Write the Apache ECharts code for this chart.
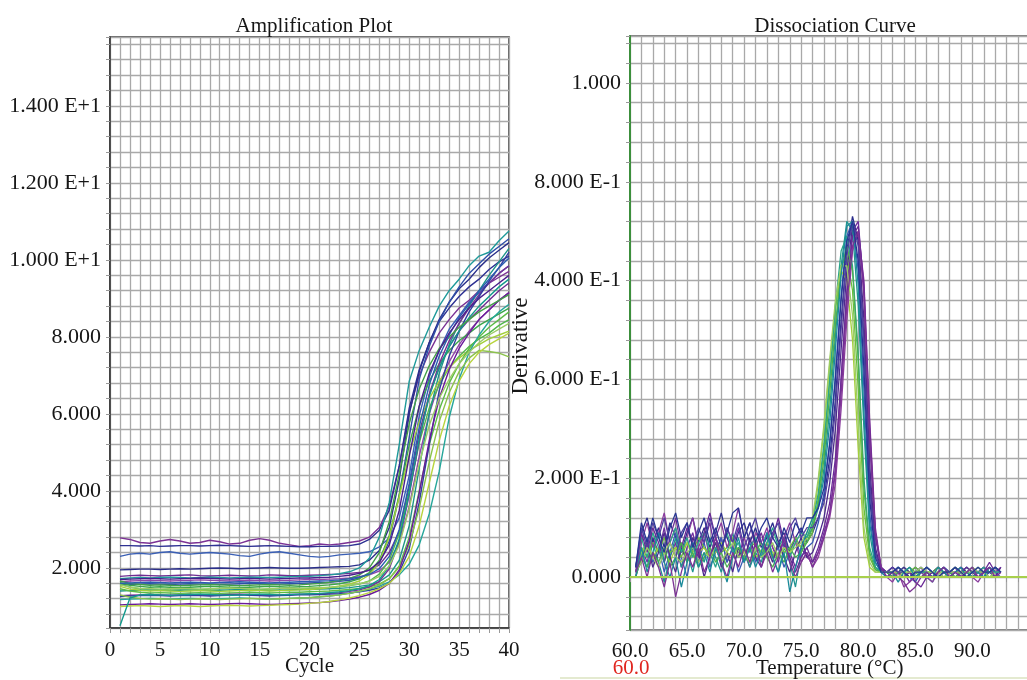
<!DOCTYPE html>
<html>
<head>
<meta charset="utf-8">
<title>Amplification Plot / Dissociation Curve</title>
<script src="https://cdn.jsdelivr.net/npm/echarts@6/dist/echarts.min.js"></script>
<style>
html, body { margin: 0; padding: 0; background: #fff; }
#chart { width: 1027px; height: 680px; }
</style>
</head>
<body>
<div id="chart"></div>
<script>
// amplification plot: fluorescence per cycle
var cycles = [1,2,3,4,5,6,7,8,9,10,11,12,13,14,15,16,17,18,19,20,
              21,22,23,24,25,26,27,28,29,30,31,32,33,34,35,36,37,38,39,40];

var ampCurves = [
    [2.78,2.74,2.66,2.64,2.70,2.74,2.70,2.64,2.66,2.72, 2.68,2.62,2.64,2.72,2.76,2.72,2.64,2.60,2.56,2.58,
     2.62,2.60,2.62,2.66,2.70,2.80,3.05,3.60,4.65,6.05, 7.0,7.6,8.1,8.45,8.75,8.95,9.2,9.4,9.55,9.7],
    [2.58,2.58,2.57,2.58,2.56,2.57,2.58,2.58,2.57,2.58, 2.59,2.58,2.57,2.56,2.57,2.58,2.57,2.56,2.55,2.55,
     2.56,2.56,2.57,2.58,2.62,2.74,2.98,3.5,4.65,6.15, 7.15,7.85,8.4,8.75,9.05,9.3,9.5,9.75,9.95,10.1],
    [2.30,2.36,2.38,2.36,2.40,2.42,2.38,2.36,2.38,2.40, 2.38,2.36,2.32,2.30,2.36,2.40,2.42,2.38,2.34,2.30,
     2.28,2.30,2.34,2.36,2.38,2.42,2.55,2.78,3.3,4.4, 5.95,6.95,7.65,8.2,8.55,8.9,9.15,9.4,9.65,9.85],
    [1.95,1.96,1.97,1.97,1.96,1.97,1.98,1.97,1.98,1.99, 2.00,1.99,1.98,1.99,2.00,2.01,2.00,1.99,1.99,2.00,
     2.01,2.02,2.03,2.04,2.08,2.2,2.45,3.05,4.3,6.0, 7.1,7.85,8.45,8.9,9.25,9.5,9.8,10.05,10.25,10.45],
    [1.78,1.80,1.81,1.80,1.79,1.80,1.81,1.82,1.80,1.79, 1.80,1.81,1.80,1.79,1.80,1.82,1.81,1.80,1.80,1.81,
     1.82,1.83,1.84,1.86,1.88,1.94,2.08,2.4,2.95,4.1, 5.5,6.5,7.2,7.75,8.15,8.45,8.7,8.95,9.2,9.4],
    [1.72,1.74,1.75,1.74,1.75,1.76,1.75,1.74,1.75,1.76, 1.75,1.74,1.75,1.76,1.76,1.75,1.76,1.77,1.78,1.78,
     1.80,1.82,1.85,1.9,2.0,2.25,2.8,3.7,5.2,6.85, 7.65,8.25,8.8,9.2,9.5,9.85,10.1,10.2,10.5,10.75],
    [1.64,1.66,1.67,1.68,1.67,1.66,1.67,1.68,1.69,1.68, 1.67,1.66,1.67,1.68,1.67,1.66,1.67,1.68,1.69,1.70,
     1.70,1.71,1.72,1.74,1.77,1.82,1.92,2.15,2.65,3.6, 4.9,6.0,6.8,7.35,7.8,8.15,8.45,8.7,8.95,9.15],
    [1.56,1.57,1.58,1.59,1.58,1.57,1.58,1.59,1.58,1.58, 1.57,1.58,1.59,1.60,1.59,1.58,1.58,1.59,1.60,1.61,
     1.62,1.63,1.65,1.68,1.74,1.86,2.12,2.7,3.9,5.4, 6.9,7.75,8.4,8.9,9.3,9.65,9.9,10.15,10.35,10.55],
    [1.62,1.55,1.52,1.50,1.51,1.50,1.49,1.50,1.51,1.52, 1.51,1.50,1.49,1.50,1.51,1.52,1.51,1.50,1.51,1.52,
     1.54,1.56,1.59,1.64,1.72,1.88,2.2,2.85,3.9,5.2, 6.2,6.85,7.3,7.65,7.9,8.1,8.3,8.45,8.6,8.75],
    [1.58,1.50,1.46,1.45,1.44,1.45,1.46,1.45,1.44,1.45, 1.46,1.47,1.46,1.45,1.44,1.45,1.46,1.47,1.46,1.47,
     1.48,1.49,1.51,1.54,1.58,1.66,1.84,2.2,2.9,4.0, 5.25,6.15,6.75,7.2,7.5,7.75,7.95,8.1,8.3,8.45],
    [1.40,1.41,1.42,1.43,1.42,1.41,1.42,1.43,1.42,1.41, 1.42,1.43,1.44,1.43,1.42,1.41,1.42,1.43,1.44,1.44,
     1.45,1.46,1.47,1.49,1.52,1.56,1.64,1.82,2.2,3.1, 4.6,6.0,7.05,7.8,8.35,8.8,9.2,9.6,9.95,10.3],
    [1.52,1.45,1.42,1.40,1.41,1.40,1.39,1.40,1.41,1.40, 1.39,1.40,1.41,1.42,1.41,1.40,1.41,1.42,1.43,1.44,
     1.46,1.49,1.53,1.58,1.66,1.82,2.15,2.8,3.85,4.95, 5.8,6.4,6.85,7.2,7.45,7.65,7.8,7.95,8.05,8.15],
    [1.46,1.40,1.37,1.35,1.36,1.35,1.34,1.35,1.36,1.35, 1.34,1.35,1.36,1.37,1.36,1.35,1.36,1.37,1.37,1.38,
     1.39,1.40,1.42,1.44,1.47,1.51,1.58,1.72,2.05,2.8, 4.0,5.2,6.1,6.8,7.3,7.7,8.0,8.25,8.45,8.65],
    [1.28,1.29,1.30,1.31,1.30,1.29,1.30,1.31,1.30,1.29, 1.30,1.31,1.32,1.31,1.30,1.29,1.30,1.31,1.32,1.32,
     1.33,1.34,1.36,1.39,1.43,1.5,1.65,1.98,2.7,3.9, 5.3,6.5,7.3,7.9,8.35,8.75,9.1,9.4,9.65,9.85],
    [1.26,1.27,1.28,1.29,1.28,1.27,1.28,1.29,1.28,1.27, 1.28,1.29,1.30,1.29,1.28,1.27,1.28,1.29,1.30,1.30,
     1.31,1.32,1.33,1.35,1.38,1.42,1.48,1.6,1.88,2.5, 3.7,5.2,6.6,7.5,8.15,8.65,9.05,9.45,9.8,10.2],
    [1.18,1.19,1.20,1.21,1.20,1.19,1.20,1.21,1.20,1.19, 1.20,1.21,1.22,1.21,1.20,1.19,1.20,1.21,1.22,1.23,
     1.25,1.27,1.30,1.34,1.39,1.45,1.53,1.64,1.82,2.1, 2.6,3.4,4.5,5.9,6.9,7.6,8.05,8.4,8.65,8.85],
    [1.30,1.24,1.21,1.19,1.20,1.19,1.18,1.19,1.20,1.19, 1.18,1.19,1.20,1.21,1.20,1.19,1.20,1.21,1.22,1.23,
     1.25,1.27,1.30,1.34,1.39,1.46,1.56,1.72,2.02,2.6, 3.55,4.75,5.8,6.55,7.1,7.45,7.65,7.62,7.58,7.48],
    [1.04,1.05,1.06,1.07,1.06,1.05,1.06,1.07,1.06,1.05, 1.06,1.07,1.08,1.07,1.06,1.05,1.06,1.07,1.08,1.09,
     1.10,1.12,1.15,1.19,1.24,1.31,1.42,1.6,1.95,2.7, 3.95,5.3,6.4,7.15,7.7,8.1,8.45,8.7,8.95,9.15],
    [1.00,1.01,1.02,1.01,1.00,1.01,1.02,1.01,1.00,1.01, 1.02,1.03,1.02,1.01,1.02,1.03,1.04,1.05,1.06,1.08,
     1.10,1.13,1.17,1.22,1.28,1.36,1.46,1.6,1.85,2.3, 3.1,4.2,5.3,6.2,6.85,7.3,7.6,7.8,7.95,8.1],
    [0.50,1.22,1.30,1.31,1.30,1.29,1.30,1.31,1.32,1.31, 1.30,1.29,1.30,1.31,1.32,1.31,1.30,1.31,1.32,1.33,
     1.34,1.36,1.38,1.41,1.46,1.54,1.7,2.05,2.75,3.95, 5.35,6.45,7.2,7.75,8.15,8.5,8.8,9.05,9.3,9.5],
    [1.66,1.60,1.57,1.55,1.56,1.55,1.54,1.55,1.56,1.57, 1.56,1.55,1.54,1.55,1.56,1.57,1.56,1.55,1.56,1.58,
     1.60,1.63,1.67,1.73,1.82,2.0,2.4,3.2,4.45,5.75, 6.65,7.25,7.7,8.0,8.25,8.45,8.65,8.8,8.95,9.1],
    [1.60,1.61,1.62,1.63,1.62,1.61,1.62,1.63,1.62,1.61, 1.62,1.63,1.64,1.63,1.62,1.61,1.62,1.63,1.64,1.65,
     1.66,1.67,1.69,1.72,1.76,1.83,1.98,2.3,3.0,4.2, 5.65,6.75,7.5,8.05,8.5,8.85,9.2,9.5,9.8,10.05],
    [1.56,1.50,1.47,1.46,1.45,1.46,1.47,1.46,1.45,1.46, 1.47,1.48,1.47,1.46,1.45,1.46,1.47,1.48,1.47,1.48,
     1.49,1.50,1.52,1.55,1.59,1.65,1.78,2.05,2.6,3.55, 4.7,5.7,6.4,6.9,7.3,7.6,7.85,8.05,8.2,8.35],
    [1.70,1.71,1.72,1.73,1.72,1.71,1.72,1.73,1.74,1.73, 1.72,1.71,1.72,1.73,1.72,1.71,1.72,1.73,1.74,1.74,
     1.75,1.76,1.78,1.81,1.86,1.95,2.15,2.6,3.5,4.9, 6.2,7.05,7.65,8.1,8.45,8.75,9.0,9.2,9.4,9.6]
];
var ampColors = ['#7b3294','#2e3192','#3a5fb5','#2b2f8a','#6f2c91','#1f9a9a','#9046a8','#2f4fa8',
                 '#3aa64a','#52b84a','#1e9488','#a3cf3b','#5dbb46','#7a2f95','#303f9f','#26a69a',
                 '#8bc34a','#6a1b9a','#b8d43e','#139a8c','#43a047','#2a5db0','#9ccc65','#4a1f8c'];
var ampXTicks = [0, 5, 10, 15, 20, 25, 30, 35, 40];
var ampXLabels = ['0', '5', '10', '15', '20', '25', '30', '35', '40'];
var ampYTicks = [2, 4, 6, 8, 10, 12, 14];
var ampYLabels = ['2.000', '4.000', '6.000', '8.000', '1.000 E+1', '1.200 E+1', '1.400 E+1'];

// dissociation curve: derivative per temperature
var meltTemps = [60.5,61,61.5,62,62.5,63,63.5,64,64.5,65, 65.5,66,66.5,67,67.5,68,68.5,69,69.5,70,
                 70.5,71,71.5,72,72.5,73,73.5,74,74.5,75,75.5,
                 76,76.5,77,77.5,78,78.5,79,79.5,80,80.5,81,81.5,82,
                 82.5,83,83.5,84,84.5,85,85.5,86,86.5,87, 87.5,88,88.5,89,89.5,90,90.5,91,91.5,92,92.5];

var meltCurves = [
    [0.01,0.06,0.03,0.08,0.05,0.10,0.04,0.07,0.02,0.06, 0.09,0.04,0.07,0.11,0.05,0.08,0.03,0.06,0.10,0.05,
     0.02,0.07,0.04,0.09,0.06,0.03,0.08,0.05,0.02,0.06,0.04,
     0.03,0.05,0.09,0.13,0.22,0.40,0.58,0.70,0.72,0.58,0.28,0.08,0.02,
     0.01,0.00,0.02,0.01,-0.01,0.01,0.02,0.00,0.01,0.02, 0.01,0.00,0.01,0.02,0.01,0.00,0.01,0.02,0.01,0.02,0.01],
    [0.02,0.09,0.12,0.07,0.10,0.06,0.11,0.08,0.05,0.09, 0.12,0.07,0.10,0.06,0.09,0.13,0.08,0.05,0.09,0.11,
     0.07,0.10,0.06,0.08,0.11,0.07,0.09,0.05,0.08,0.10,0.07,
     0.09,0.12,0.16,0.24,0.36,0.52,0.66,0.73,0.68,0.48,0.20,0.05,0.015,
     0.01,0.02,0.01,0.00,0.01,0.02,0.01,0.01,0.00,0.01, 0.02,0.01,0.00,0.01,0.02,0.01,0.01,0.00,0.01,0.02,0.01],
    [0.00,0.04,0.08,0.03,0.06,0.01,0.05,0.09,0.04,0.00, 0.06,0.03,0.07,0.02,0.05,0.08,0.03,0.06,0.01,0.04,
     0.07,0.03,0.05,0.09,0.04,0.06,0.02,0.05,0.08,0.04,0.06,
     0.07,0.11,0.17,0.27,0.41,0.57,0.69,0.72,0.62,0.38,0.13,0.03,0.01,
     0.00,0.01,0.02,0.01,0.00,-0.01,0.01,0.02,0.01,0.00, 0.01,0.01,0.02,0.00,0.01,0.02,0.01,0.00,0.01,0.01,0.00],
    [0.01,0.05,0.02,0.07,0.03,-0.01,0.04,0.08,0.02,0.05, 0.01,0.06,0.03,0.08,0.04,0.01,0.05,0.09,0.04,0.06,
     0.02,0.05,0.03,0.07,0.04,0.01,0.06,0.03,-0.02,0.05,0.08,
     0.10,0.14,0.22,0.34,0.49,0.63,0.72,0.70,0.55,0.30,0.09,0.02,0.01,
     0.01,0.00,0.01,0.02,0.01,0.00,0.01,0.00,-0.01,0.01, 0.02,0.01,0.00,0.01,0.02,0.01,0.00,0.01,0.01,0.02,0.01],
    [0.02,0.06,0.04,0.07,0.05,0.08,0.05,0.06,0.04,0.07, 0.05,0.08,0.06,0.04,0.07,0.05,0.06,0.08,0.05,0.04,
     0.06,0.07,0.05,0.06,0.04,0.07,0.05,0.06,0.08,0.06,0.07,
     0.09,0.16,0.26,0.40,0.54,0.63,0.65,0.58,0.38,0.14,0.04,0.015,0.01,
     0.01,0.01,0.00,0.01,0.01,0.02,0.01,0.01,0.00,0.01, 0.01,0.01,0.02,0.01,0.01,0.00,0.01,0.01,0.01,0.01,0.01],
    [0.01,0.05,0.07,0.04,0.06,0.05,0.03,0.06,0.05,0.07, 0.04,0.05,0.06,0.04,0.05,0.07,0.05,0.04,0.06,0.05,
     0.06,0.04,0.05,0.07,0.05,0.04,0.06,0.05,0.07,0.06,0.08,
     0.11,0.19,0.30,0.43,0.55,0.62,0.60,0.48,0.26,0.08,0.02,0.01,0.01,
     0.01,0.01,0.01,0.00,0.01,0.01,0.01,0.01,0.01,0.00, 0.01,0.01,0.01,0.01,0.00,0.01,0.01,0.01,0.01,0.01,0.01],
    [0.00,0.07,0.11,0.06,0.09,0.13,0.07,0.10,0.05,0.08, 0.12,0.06,0.09,0.04,0.08,0.11,0.06,0.09,0.14,0.08,
     0.05,0.09,0.07,0.10,0.06,0.04,0.08,0.11,0.07,0.03,0.05,
     0.02,0.04,0.08,0.12,0.19,0.34,0.52,0.66,0.70,0.60,0.32,0.10,0.02,
     0.00,-0.01,0.01,-0.02,-0.01,0.00,0.01,0.00,-0.01,0.01, 0.00,0.01,0.02,0.00,0.01,0.00,-0.01,0.01,0.02,0.00,0.01],
    [0.01,0.03,0.07,0.02,0.05,0.09,0.04,0.01,0.06,0.03, 0.08,0.05,0.00,0.04,0.07,0.02,0.05,0.01,0.06,0.03,
     0.08,0.04,0.02,0.06,0.03,0.07,0.04,0.01,0.05,0.08,0.04,
     0.05,0.08,0.12,0.19,0.30,0.46,0.62,0.71,0.69,0.52,0.23,0.06,0.015,
     0.01,0.00,0.01,0.02,0.01,0.00,0.01,0.02,0.01,0.00, 0.01,0.00,0.01,0.02,0.01,0.00,0.01,0.02,0.01,0.00,0.02],
    [0.02,0.08,0.04,0.09,0.06,0.03,0.07,0.10,0.05,0.08, 0.04,0.07,0.09,0.05,0.02,0.06,0.09,0.05,0.07,0.03,
     0.06,0.08,0.04,0.07,0.10,0.06,0.08,0.04,0.07,0.09,0.08,
     0.11,0.17,0.27,0.40,0.55,0.66,0.69,0.63,0.45,0.20,0.06,0.02,0.01,
     0.01,0.01,0.02,0.01,0.00,0.01,0.01,0.02,0.01,0.00, 0.01,0.01,0.02,0.01,0.01,0.00,0.01,0.02,0.01,0.01,0.01],
    [0.01,0.09,0.05,0.10,0.07,0.03,0.08,0.12,0.06,0.10, 0.07,0.04,0.09,0.13,0.08,0.05,0.10,0.07,0.04,0.08,
     0.11,0.06,0.09,0.05,0.08,0.12,0.07,0.04,0.01,0.04,0.06,
     0.03,0.06,0.10,0.15,0.24,0.40,0.57,0.69,0.71,0.59,0.31,0.09,0.02,
     0.01,0.02,0.01,0.00,0.01,-0.01,-0.02,0.00,0.01,0.02, 0.01,0.00,0.01,0.01,0.02,0.01,0.00,0.01,0.03,0.01,0.02],
    [0.00,0.04,0.02,0.05,0.03,0.06,0.02,0.04,0.07,0.03, 0.05,0.02,0.04,0.06,0.03,0.05,0.02,0.04,0.06,0.04,
     0.03,0.05,0.07,0.04,0.02,0.05,0.03,0.06,0.04,0.05,0.07,
     0.10,0.15,0.24,0.37,0.51,0.62,0.67,0.62,0.44,0.18,0.05,0.015,0.01,
     0.01,0.00,0.01,0.01,0.02,0.01,0.00,0.01,0.01,0.02, 0.01,0.01,0.00,0.01,0.01,0.01,0.02,0.01,0.00,0.01,0.01],
    [0.02,0.10,0.06,0.11,0.08,0.12,0.07,0.04,0.09,0.11, 0.06,0.10,0.07,0.12,0.08,0.05,0.10,0.07,0.11,0.06,
     0.09,0.12,0.07,0.05,0.09,0.11,0.06,0.10,0.12,0.08,0.10,
     0.10,0.12,0.15,0.22,0.34,0.50,0.65,0.72,0.67,0.47,0.19,0.05,0.01,
     0.01,0.02,0.01,0.01,0.00,0.01,0.02,0.01,0.00,0.01, 0.02,0.01,0.01,0.00,0.01,0.02,0.01,0.01,0.02,0.01,0.01],
    [0.01,0.03,0.06,0.04,0.02,0.05,0.07,0.04,0.03,0.05, 0.06,0.03,0.05,0.04,0.06,0.03,0.05,0.07,0.04,0.05,
     0.03,0.06,0.04,0.05,0.07,0.04,0.06,0.05,0.06,0.07,0.09,
     0.12,0.20,0.31,0.44,0.56,0.63,0.63,0.53,0.31,0.10,0.03,0.01,0.01,
     0.01,0.01,0.00,0.01,0.01,0.01,0.02,0.01,0.01,0.01, 0.00,0.01,0.01,0.01,0.01,0.02,0.01,0.01,0.00,0.01,0.01],
    [0.00,0.06,0.01,0.05,0.09,0.03,0.00,0.04,-0.02,0.03, 0.07,0.02,0.05,0.01,0.06,0.03,-0.01,0.04,0.08,0.03,
     0.06,0.02,0.05,0.09,0.04,0.01,0.05,-0.03,0.02,0.06,0.09,
     0.12,0.14,0.20,0.31,0.46,0.61,0.71,0.72,0.59,0.33,0.11,0.03,0.01,
     0.00,0.01,-0.01,0.01,0.02,0.00,0.01,0.01,0.00,0.02, 0.01,0.00,0.01,0.02,0.00,0.01,0.01,0.00,0.02,0.01,0.01],
    [0.01,0.04,0.00,0.05,0.02,-0.02,0.03,-0.04,0.01,0.05, 0.02,0.06,0.01,0.04,0.08,0.03,0.00,0.05,0.02,0.06,
     0.03,0.07,0.02,0.05,0.01,0.04,0.08,0.03,0.00,0.03,0.05,
     0.02,0.05,0.08,0.13,0.21,0.37,0.55,0.67,0.70,0.57,0.29,0.09,0.02,
     0.00,0.01,0.00,-0.01,-0.03,-0.02,0.00,0.01,0.00,0.01, 0.02,0.00,0.01,0.00,0.01,0.02,0.00,0.01,0.02,0.00,0.01],
    [0.02,0.11,0.07,0.12,0.08,0.05,0.10,0.13,0.08,0.11, 0.06,0.09,0.12,0.07,0.10,0.06,0.09,0.13,0.14,0.08,
     0.11,0.07,0.10,0.12,0.08,0.06,0.10,0.07,0.11,0.09,0.12,
     0.12,0.14,0.18,0.27,0.40,0.56,0.68,0.72,0.64,0.42,0.16,0.04,0.01,
     0.01,0.01,0.02,0.01,0.00,0.01,0.01,0.02,0.01,0.00, 0.01,0.01,0.02,0.01,0.00,0.01,0.02,0.01,0.01,0.02,0.01]
];
var meltColors = ['#7030a0','#2b2d8c','#3a5bb5','#20938f','#6abf3a','#a5cf3c','#8a3c9e','#4b2a8c',
                  '#2aa58a','#6a2a96','#4caf50','#5140a0','#9ccc65','#1a8a9a','#7b3294','#283593'];
var meltXTicks = [60, 65, 70, 75, 80, 85, 90];
var meltXLabels = ['60.0', '65.0', '70.0', '75.0', '80.0', '85.0', '90.0'];
var meltYTicks = [0, 0.2, 0.4, 0.6, 0.8, 1.0];
var meltYLabels = ['0.000', '2.000 E-1', '6.000 E-1', '4.000 E-1', '8.000 E-1', '1.000'];

var serif = 'Liberation Serif';
var textColor = '#161616';
var gridColor = '#a9a9a9';

function tickLabel(ticks, labels) {
    return function (value) {
        for (var i = 0; i < ticks.length; i++) {
            if (Math.abs(ticks[i] - value) < 1e-6) return labels[i];
        }
        return '';
    };
}

function axisText(size) {
    return {fontFamily: serif, fontSize: size, color: textColor};
}

var series = [];
ampCurves.forEach(function (vals, i) {
    series.push({
        type: 'line', xAxisIndex: 0, yAxisIndex: 0,
        data: vals.map(function (v, j) { return [cycles[j], v]; }),
        symbol: 'none', silent: true,
        lineStyle: {width: 1.4, color: ampColors[i]},
        itemStyle: {color: ampColors[i]}
    });
});
meltCurves.forEach(function (vals, i) {
    var s = {
        type: 'line', xAxisIndex: 1, yAxisIndex: 1,
        data: vals.map(function (v, j) { return [meltTemps[j], v]; }),
        symbol: 'none', silent: true,
        lineStyle: {width: 1.3, color: meltColors[i]},
        itemStyle: {color: meltColors[i]}
    };
    if (i === 0) {
        // green zero line across the dissociation plot
        s.markLine = {
            silent: true, symbol: 'none', label: {show: false},
            lineStyle: {color: '#a8d04c', width: 2, type: 'solid'},
            data: [{yAxis: 0}]
        };
    }
    series.push(s);
});

var option = {
    backgroundColor: '#fff',
    animation: false,
    title: [
        {text: 'Amplification Plot', left: 309, top: 11, textAlign: 'center',
         textStyle: {fontFamily: serif, fontSize: 21, fontWeight: 'normal', color: textColor}},
        {text: 'Dissociation Curve', left: 830, top: 11, textAlign: 'center',
         textStyle: {fontFamily: serif, fontSize: 21, fontWeight: 'normal', color: textColor}}
    ],
    grid: [
        {left: 110, top: 37, width: 399, height: 591, show: true,
         borderColor: '#333', borderWidth: 1.5, outerBoundsMode: 'none'},
        {left: 630, top: 36, width: 399.4, height: 594, show: true,
         borderColor: '#555', borderWidth: 1.5, outerBoundsMode: 'none'}
    ],
    xAxis: [
        {
            gridIndex: 0, type: 'value', min: 0, max: 40, interval: 1,
            axisLine: {show: true, lineStyle: {color: '#333', width: 1.5}},
            axisTick: {show: true, length: 5, lineStyle: {color: '#999'}},
            axisLabel: Object.assign({formatter: tickLabel(ampXTicks, ampXLabels), margin: 12}, axisText(21)),
            splitLine: {show: true, lineStyle: {color: gridColor, width: 1.3}},
            name: 'Cycle', nameLocation: 'middle', nameGap: 28, nameMoveOverlap: false,
            nameTextStyle: axisText(21)
        },
        {
            gridIndex: 1, type: 'value', min: 60, max: 95, interval: 1,
            axisLine: {show: true, lineStyle: {color: '#555', width: 2}},
            axisTick: {show: true, length: 5, lineStyle: {color: '#999'}},
            axisLabel: Object.assign({formatter: tickLabel(meltXTicks, meltXLabels), margin: 11}, axisText(21)),
            splitLine: {show: true, lineStyle: {color: gridColor, width: 1.3}},
            name: 'Temperature (°C)', nameLocation: 'middle', nameGap: 28, nameMoveOverlap: false,
            nameTextStyle: axisText(21)
        }
    ],
    yAxis: [
        {
            gridIndex: 0, type: 'value', min: 0.44, max: 15.79,
            minInterval: 0.4, maxInterval: 0.4, splitNumber: 38,
            axisLine: {show: true, lineStyle: {color: '#333', width: 1.5}},
            axisTick: {show: true, length: 4, lineStyle: {color: '#999'}},
            axisLabel: Object.assign({formatter: tickLabel(ampYTicks, ampYLabels), margin: 9}, axisText(22)),
            splitLine: {show: true, lineStyle: {color: gridColor, width: 1.3}}
        },
        {
            gridIndex: 1, type: 'value', min: -0.107, max: 1.095,
            minInterval: 0.04, maxInterval: 0.04, splitNumber: 30,
            axisLine: {show: true, lineStyle: {color: '#3c8f3c', width: 2}},
            axisTick: {show: true, length: 4, lineStyle: {color: '#999'}},
            axisLabel: Object.assign({formatter: tickLabel(meltYTicks, meltYLabels), margin: 9}, axisText(22)),
            splitLine: {show: true, lineStyle: {color: gridColor, width: 1.3}}
        }
    ],
    graphic: [
        {type: 'text', x: 521, y: 346, rotation: Math.PI / 2, z: 100,
         style: {text: 'Derivative', fontFamily: serif, fontSize: 23, fill: textColor,
                 align: 'center', verticalAlign: 'middle'}},
        {type: 'text', x: 631, y: 668,
         style: {text: '60.0', fontFamily: serif, fontSize: 21, fill: '#e0261f',
                 align: 'center', verticalAlign: 'middle'}},
        {type: 'line', shape: {x1: 560, y1: 678, x2: 1027, y2: 678},
         style: {stroke: '#e4ead0', lineWidth: 2}}
    ],
    series: series
};

var myChart = echarts.init(document.getElementById('chart'));
myChart.setOption(option);
</script>
</body>
</html>
